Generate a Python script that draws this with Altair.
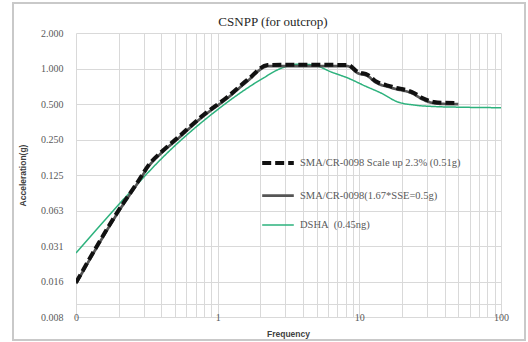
import altair as alt
import pandas as pd

# ---- data ----
series_names = [
    "SMA/CR-0098 Scale up 2.3% (0.51g)",
    "SMA/CR-0098(1.67*SSE=0.5g)",
    "DSHA\u00a0 (0.45ng)",
]
series_colors = ["#111111", "#555555", "#2db27d"]
chart_title = "CSNPP (for outcrop)"

freq_scaled = [0.1, 0.205, 0.27, 0.334, 0.393, 0.518, 0.792, 1.17, 1.62, 2.25, 2.78, 5.0, 8.3, 9.75, 11.5, 12.85, 17.0, 24.3, 27.6, 33.6, 40.0, 50.0]
acc_scaled = [0.0153, 0.0657, 0.107, 0.158, 0.192, 0.257, 0.403, 0.573, 0.80, 1.07, 1.075, 1.075, 1.07, 0.934, 0.881, 0.79, 0.70, 0.62, 0.565, 0.52, 0.512, 0.51]

freq_base = [0.1, 0.205, 0.27, 0.334, 0.393, 0.518, 0.792, 1.17, 1.62, 2.25, 2.78, 5.0, 8.3, 9.75, 11.5, 12.85, 17.0, 24.3, 27.6, 33.6, 40.0, 50.0]
acc_base = [0.0150, 0.0642, 0.105, 0.154, 0.188, 0.251, 0.394, 0.560, 0.78, 1.045, 1.05, 1.05, 1.045, 0.913, 0.861, 0.772, 0.684, 0.606, 0.552, 0.508, 0.50, 0.499]

freq_dsha = [0.1, 0.205, 0.463, 0.93, 2.1, 2.78, 3.8, 4.75, 6.4, 8.3, 11.0, 14.2, 18.7, 24.3, 35.0, 50.0, 100.0]
acc_dsha = [0.0272, 0.0724, 0.2035, 0.419, 0.83, 1.0, 1.09, 1.07, 0.93, 0.83, 0.71, 0.62, 0.52, 0.49, 0.475, 0.47, 0.465]

x_grid = sorted({round(m * d, 6) for d in [0.1, 1, 10] for m in range(1, 10)} | {100.0})
y_grid = [2.0 ** k for k in range(-7, 2)] + [0.0101]

def frame(name, freqs, accs):
    return pd.DataFrame({"series": name, "freq": freqs, "acc": accs})

# drawing order: green first, then grey, then the dashed black on top
df = pd.concat([
    frame(series_names[2], freq_dsha, acc_dsha),
    frame(series_names[1], freq_base, acc_base),
    frame(series_names[0], freq_scaled, acc_scaled),
], ignore_index=True)
df["draw"] = df["series"].map({series_names[2]: 0, series_names[1]: 1, series_names[0]: 2})

serif = "Liberation Serif"
sans = "Liberation Sans"

x_enc = alt.X(
    "freq:Q",
    scale=alt.Scale(type="log", domain=[0.1, 100], nice=False),
    axis=alt.Axis(
        values=x_grid,
        labelExpr="abs(log(datum.value)/LN10 - round(log(datum.value)/LN10)) < 1e-6 ? format(datum.value, '.0f') : ''",
        grid=True, gridColor="#d9d9d9", gridWidth=1,
        domain=False, ticks=False, tickSize=0,
        labelBaseline="middle", labelPadding=0, labelFlush=False, labelOverlap=False,
        labelFont=serif, labelFontSize=10, labelColor="#595959",
        title="Frequency", titleFont=sans, titleFontSize=8.5, titleFontWeight="bold",
        titleColor="#404040", titleX=212, titleY=16, titleBaseline="middle",
    ),
)
y_enc = alt.Y(
    "acc:Q",
    scale=alt.Scale(type="log", base=2, domain=[2.0 ** -7, 2.0], nice=False),
    axis=alt.Axis(
        values=y_grid,
        labelExpr="(datum.value > 0.0095 && datum.value < 0.0105) ? '' : format(datum.value, '.3f')",
        grid=True, gridColor="#d9d9d9", gridWidth=1,
        domain=False, ticks=False, tickSize=0,
        labelPadding=13, labelOverlap=False, labelFlush=False,
        labelFont=serif, labelFontSize=10, labelColor="#595959",
        title="Acceleration(g)", titleFont=sans, titleFontSize=8.5, titleFontWeight="bold",
        titleColor="#404040", titleX=-54, titleY=142, titleAngle=270,
        titleAlign="center", titleBaseline="middle",
    ),
)

legend = alt.Legend(
    orient="none", legendX=184, legendY=112, title=None,
    symbolType="stroke", symbolSize=1000, padding=0, rowPadding=7,
    labelOffset=4, labelFont=serif, labelFontSize=10.5, labelColor="#595959",
    labelLimit=300,
)

lines = alt.Chart(df).mark_line(interpolate="monotone", clip=True, strokeCap="butt").encode(
    x=x_enc,
    y=y_enc,
    color=alt.Color("series:N", scale=alt.Scale(domain=series_names, range=series_colors), legend=legend),
    strokeDash=alt.StrokeDash("series:N", scale=alt.Scale(domain=series_names, range=[[9, 4], [1, 0], [1, 0]]), legend=legend),
    strokeWidth=alt.StrokeWidth("series:N", scale=alt.Scale(domain=series_names, range=[4.0, 1.5, 1.6]), legend=legend),
    detail="draw:O",
)

border = alt.Chart(pd.DataFrame({"a": [0]})).mark_rect(
    filled=False, stroke="#c9c9c9", strokeWidth=2, clip=False
).encode(x=alt.value(-63), x2=alt.value(449), y=alt.value(-30), y2=alt.value(307))

title = alt.Chart(pd.DataFrame({"t": [chart_title]})).mark_text(
    font=serif, fontSize=13, color="#262626", align="center", baseline="middle", clip=False
).encode(text="t:N", x=alt.value(197), y=alt.value(-11))

chart = alt.layer(lines, border, title).properties(
    width=425, height=284,
    padding={"left": 76, "top": 33, "right": 27, "bottom": 25},
    autosize=alt.AutoSizeParams(type="none"),
    background="white",
).configure_view(strokeWidth=0)

chart.save("out.html", embed_options={"renderer": "svg", "actions": False})
